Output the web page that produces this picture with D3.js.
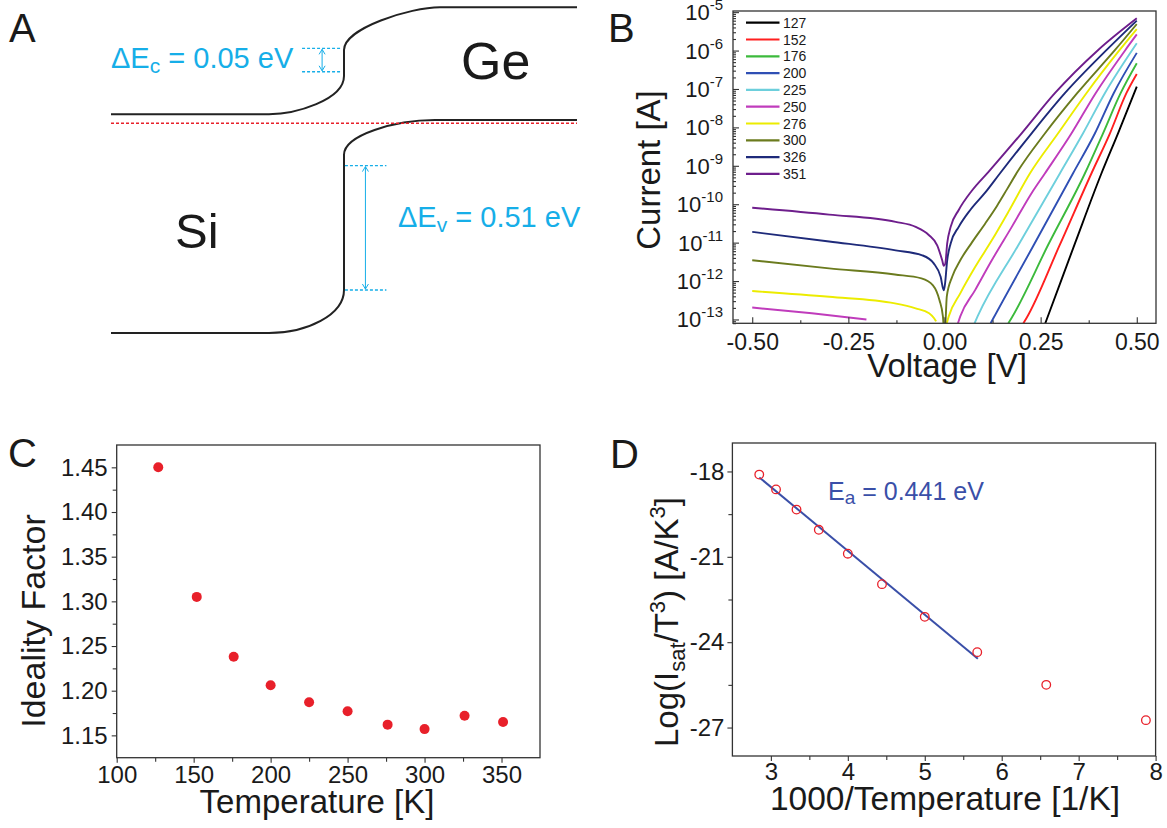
<!DOCTYPE html>
<html><head><meta charset="utf-8">
<script src="https://cdn.jsdelivr.net/npm/d3@7"></script>
<style>
body{margin:0;background:#fff;}
svg{display:block;font-family:"Liberation Sans",Arial,Helvetica,sans-serif;}
</style></head><body>
<svg id="fig" width="1167" height="828"></svg>
<script>
// ================= DATA =================
// Panel B : I-V curves, [voltage (V), log10(current / A)]
const temps = [127,152,176,200,225,250,276,300,326,351];
const ivColors = ["#000000","#ff1f1f","#3cba3c","#2f4fb4","#6dcfdc","#c03cbc","#ecec00","#6b7b1e","#1e2a7a","#6e1e8c"];
const iv127 = [[0.262,-13.1],[0.265,-13.02],[0.34,-11.0],[0.408,-9.2],[0.451,-8.16],[0.5,-6.94]];
const iv152 = [[0.205,-13.1],[0.213,-12.97],[0.298,-11.1],[0.382,-9.2],[0.43,-8.16],[0.473,-7.11],[0.5,-6.61]];
const iv176 = [[0.166,-13.1],[0.174,-12.97],[0.27,-11.05],[0.365,-9.2],[0.412,-8.16],[0.458,-7.11],[0.5,-6.33]];
const iv200 = [[0.12,-13.1],[0.127,-12.97],[0.23,-11.1],[0.334,-9.2],[0.391,-8.16],[0.44,-7.11],[0.5,-6.06]];
const iv225 = [[0.078,-13.1],[0.086,-12.92],[0.19,-11.1],[0.3,-9.2],[0.36,-8.16],[0.417,-7.11],[0.5,-5.81]];
const iv250rev = [[-0.5,-12.69],[-0.345,-12.84],[-0.203,-13.0]];
const iv250 = [[0.035,-13.1],[0.041,-12.92],[0.08,-12.23],[0.123,-11.46],[0.175,-10.59],[0.226,-9.72],[0.261,-9.2],[0.33,-8.16],[0.393,-7.11],[0.47,-5.99],[0.5,-5.58]];
const iv276rev = [[-0.5,-12.26],[-0.3,-12.41],[-0.129,-12.58],[-0.075,-12.71],[-0.04,-12.84],[-0.027,-12.97],[-0.022,-13.05]];
const iv276 = [[0.006,-13.1],[0.011,-12.92],[0.041,-12.32],[0.08,-11.63],[0.123,-10.94],[0.166,-10.2],[0.222,-9.2],[0.295,-8.16],[0.369,-7.11],[0.455,-5.99],[0.5,-5.44]];
const iv300 = [[-0.5,-11.46],[-0.3,-11.67],[-0.129,-11.83],[-0.06,-11.93],[-0.03,-12.11],[-0.013,-12.5],[-0.004,-12.93],[-0.001,-13.3],[0.001,-13.3],[0.006,-12.4],[0.02,-11.89],[0.041,-11.46],[0.071,-11.0],[0.106,-10.5],[0.136,-10.05],[0.162,-9.62],[0.19,-9.15],[0.261,-8.16],[0.345,-7.11],[0.443,-5.99],[0.5,-5.31]];
const iv326 = [[-0.5,-10.72],[-0.3,-10.97],[-0.127,-11.2],[-0.058,-11.33],[-0.028,-11.54],[-0.01,-11.89],[-0.002,-12.24],[0.001,-12.1],[0.007,-11.46],[0.016,-11.02],[0.037,-10.59],[0.067,-10.15],[0.104,-9.72],[0.144,-9.2],[0.226,-8.16],[0.313,-7.11],[0.421,-5.99],[0.5,-5.22]];
const iv351 = [[-0.5,-10.09],[-0.3,-10.27],[-0.127,-10.46],[-0.075,-10.59],[-0.041,-10.8],[-0.019,-11.07],[-0.006,-11.46],[-0.002,-11.6],[0.002,-11.55],[0.007,-11.02],[0.016,-10.59],[0.037,-10.15],[0.071,-9.65],[0.115,-9.15],[0.2,-8.16],[0.287,-7.11],[0.399,-5.99],[0.5,-5.16]];
const ivSeries = [[iv127],[iv152],[iv176],[iv200],[iv225],[iv250rev,iv250],[iv276rev,iv276],[iv300],[iv326],[iv351]];
const bXTicks = [-0.5,-0.25,0,0.25,0.5];
const bXMinor = [-0.375,-0.125,0.125,0.375];
const bYDecades = [-13,-12,-11,-10,-9,-8,-7,-6,-5];

// Panel C : ideality factor vs temperature
const tempC = [127,152,176,200,225,250,276,300,326,351];
const ideality = [1.45,1.305,1.238,1.206,1.187,1.177,1.162,1.157,1.172,1.165];
const cXTicks = [100,150,200,250,300,350];
const cXMinor = [125,175,225,275,325];
const cYTicks = [1.15,1.2,1.25,1.3,1.35,1.4,1.45];
const cYMinor = [1.175,1.225,1.275,1.325,1.375,1.425];

// Panel D : Arrhenius plot
const invT = [2.849,3.067,3.333,3.623,4.0,4.444,5.0,5.682,6.579,7.874];
const logIsat = [-18.11,-18.63,-19.34,-20.05,-20.89,-21.96,-23.11,-24.35,-25.5,-26.74];
const fitX = [2.85,5.69];
const fitY = [-18.21,-24.58];
const dXTicks = [3,4,5,6,7,8];
const dXMinor = [3.5,4.5,5.5,6.5,7.5];
const dYTicks = [-27,-24,-21,-18];
const dYMinor = [-25.5,-22.5,-19.5];

// Panel A : schematic band diagram (schematic units 0..100)
const cbShape = {left:32.8, bendL:33.9, junc:50, lowTop:21.1, highBot:13.1, bendR:70.6, right:0};
const vbShape = {left:100, bendL:33.9, junc:50, lowTop:86.8, highBot:45.3, bendR:69.5, right:34.6};
const fermiLevel = 35.6;
const dEcLines = [12.6,19.8];
const dEvLines = [48.6,86.8];

// ================= DRAW =================
const svg = d3.select("#fig");
const TXT = "#1a1a1a";
const CYAN = "#16aee8";
const RED = "#e8202a";

function panelLetter(t,x,y){
  svg.append("text").attr("x",x).attr("y",y).attr("font-size",40).attr("fill",TXT).text(t);
}
function frame(x0,y0,x1,y1){
  svg.append("rect").attr("x",x0).attr("y",y0).attr("width",x1-x0).attr("height",y1-y0)
    .attr("fill","none").attr("stroke","#333").attr("stroke-width",1.3);
}
function styleAxis(g,fs){
  g.select(".domain").remove();
  g.selectAll("line").attr("stroke","#333").attr("stroke-width",1.1);
  g.selectAll("text").attr("font-size",fs).attr("fill",TXT).attr("font-family",null);
}

// ---------- Panel A ----------
const aX = d3.scaleLinear().domain([0,100]).range([111,577]);
const aY = d3.scaleLinear().domain([0,100]).range([7.3,333]);
panelLetter("A",9,42);
{
  const c = cbShape;
  const p = d3.path();
  p.moveTo(aX(0),aY(c.left));
  p.lineTo(aX(c.bendL),aY(c.left));
  p.bezierCurveTo(aX(39.5),aY(c.left),aX(c.junc),aY(28.5),aX(c.junc),aY(c.lowTop));
  p.lineTo(aX(c.junc),aY(c.highBot));
  p.bezierCurveTo(aX(c.junc),aY(6.4),aX(64.2),aY(c.right),aX(c.bendR),aY(c.right));
  p.lineTo(aX(100),aY(c.right));
  svg.append("path").attr("d",p.toString()).attr("fill","none").attr("stroke","#222").attr("stroke-width",2);
  const v = vbShape;
  const q = d3.path();
  q.moveTo(aX(100),aY(v.right));
  q.lineTo(aX(v.bendR),aY(v.right));
  q.bezierCurveTo(aX(61),aY(v.right),aX(v.junc),aY(39.2),aX(v.junc),aY(v.highBot));
  q.lineTo(aX(v.junc),aY(v.lowTop));
  q.bezierCurveTo(aX(v.junc),aY(94.5),aX(42),aY(v.left),aX(v.bendL),aY(v.left));
  q.lineTo(aX(0),aY(v.left));
  svg.append("path").attr("d",q.toString()).attr("fill","none").attr("stroke","#222").attr("stroke-width",2);
  svg.append("line").attr("x1",aX(0)).attr("x2",aX(100)).attr("y1",aY(fermiLevel)).attr("y2",aY(fermiLevel))
    .attr("stroke",RED).attr("stroke-width",1.4).attr("stroke-dasharray","3,2");
  function dbl(xa,xb,xArrow,levels){
    levels.forEach(l=>svg.append("line").attr("x1",aX(xa)).attr("x2",aX(xb)).attr("y1",aY(l)).attr("y2",aY(l))
      .attr("stroke",CYAN).attr("stroke-width",1.4).attr("stroke-dasharray","3,2"));
    const xa2=aX(xArrow), y1=aY(levels[0]), y2=aY(levels[1]);
    svg.append("line").attr("x1",xa2).attr("x2",xa2).attr("y1",y1+1).attr("y2",y2-1).attr("stroke",CYAN).attr("stroke-width",1);
    svg.append("polyline").attr("points",`${xa2-3},${y1+6} ${xa2},${y1+1} ${xa2+3},${y1+6}`).attr("fill","none").attr("stroke",CYAN).attr("stroke-width",1);
    svg.append("polyline").attr("points",`${xa2-3},${y2-6} ${xa2},${y2-1} ${xa2+3},${y2-6}`).attr("fill","none").attr("stroke",CYAN).attr("stroke-width",1);
  }
  dbl(41,49.5,45.3,dEcLines);
  dbl(50.2,59.1,54.6,dEvLines);
  const t1 = svg.append("text").attr("x",111).attr("y",68).attr("font-size",29).attr("fill",CYAN);
  t1.append("tspan").text("ΔE");
  t1.append("tspan").attr("font-size",21).attr("dy",5).text("c");
  t1.append("tspan").attr("dy",-5).text(" = 0.05 eV");
  const t2 = svg.append("text").attr("x",398).attr("y",227).attr("font-size",29).attr("fill",CYAN);
  t2.append("tspan").text("ΔE");
  t2.append("tspan").attr("font-size",21).attr("dy",5).text("v");
  t2.append("tspan").attr("dy",-5).text(" = 0.51 eV");
  svg.append("text").attr("x",461).attr("y",79).attr("font-size",52).attr("fill",TXT).text("Ge");
  svg.append("text").attr("x",175).attr("y",248).attr("font-size",49).attr("fill",TXT).text("Si");
}

// ---------- Panel B ----------
const bL=733,bR=1156,bT=11,bB=323.3;
const xB = d3.scaleLinear().domain([-0.55,0.55]).range([bL,bR]);
const yB = d3.scaleLog().domain([Math.pow(10,-13.1),Math.pow(10,-4.97)]).range([bB,bT]);
panelLetter("B",608,42);
svg.append("clipPath").attr("id","clipB").append("rect").attr("x",bL).attr("y",bT).attr("width",bR-bL).attr("height",bB-bT);
const lineB = d3.line().x(d=>xB(d[0])).y(d=>yB(Math.pow(10,d[1]))).curve(d3.curveMonotoneX);
const gCurves = svg.append("g").attr("clip-path","url(#clipB)");
ivSeries.forEach((segs,i)=>{
  segs.forEach(seg=>{
    gCurves.append("path").attr("d",lineB(seg)).attr("fill","none").attr("stroke",ivColors[i]).attr("stroke-width",1.9);
  });
});
// axes B (inward ticks)
{
  const gx = svg.append("g").attr("transform",`translate(0,${bB})`)
    .call(d3.axisBottom(xB).tickValues(bXTicks).tickSize(-6).tickPadding(10).tickFormat(d=>d.toFixed(2)));
  styleAxis(gx,23);
  const gxm = svg.append("g").attr("transform",`translate(0,${bB})`)
    .call(d3.axisBottom(xB).tickValues(bXMinor).tickSize(-3).tickFormat(""));
  styleAxis(gxm,0);
  const majorVals = bYDecades.map(e=>Math.pow(10,e));
  const minorVals = [];
  for(let e=-14;e<=-5;e++){ for(let k=2;k<=9;k++){ const v=k*Math.pow(10,e); const lv=Math.log10(v); if(lv>-13.1 && lv<-4.97) minorVals.push(v);} }
  const gy = svg.append("g").attr("transform",`translate(${bL},0)`)
    .call(d3.axisLeft(yB).tickValues(majorVals).tickSize(-6).tickFormat(""));
  styleAxis(gy,0);
  const gym = svg.append("g").attr("transform",`translate(${bL},0)`)
    .call(d3.axisLeft(yB).tickValues(minorVals).tickSize(-3).tickFormat(""));
  styleAxis(gym,0);
  bYDecades.forEach(e=>{
    const y = yB(Math.pow(10,e));
    const t = svg.append("text").attr("x",723).attr("y",y+8).attr("text-anchor","end").attr("fill",TXT).attr("font-size",22);
    t.append("tspan").text("10");
    t.append("tspan").attr("font-size",15).attr("dy",-10).text(String(e));
  });
}
frame(bL,bT,bR,bB);
svg.append("text").attr("x",947).attr("y",377).attr("text-anchor","middle").attr("font-size",33).attr("fill",TXT).text("Voltage [V]");
svg.append("text").attr("transform","translate(660,170) rotate(-90)").attr("text-anchor","middle").attr("font-size",33).attr("fill",TXT).text("Current [A]");
// legend
temps.forEach((t,i)=>{
  const y = 22.7 + i*16.8;
  svg.append("line").attr("x1",746).attr("x2",779.5).attr("y1",y).attr("y2",y).attr("stroke",ivColors[i]).attr("stroke-width",2.2);
  svg.append("text").attr("x",783).attr("y",y+5).attr("font-size",14).attr("fill",TXT).text(t);
});

// ---------- Panel C ----------
const cL=116.7,cR=540,cT=445,cB=757.7;
const xC = d3.scaleLinear().domain([100,375]).range([cL,cR]);
const yC = d3.scaleLinear().domain([1.125,1.475]).range([cB,cT]);
panelLetter("C",8,467);
{
  const gx = svg.append("g").attr("transform",`translate(0,${cB})`)
    .call(d3.axisBottom(xC).tickValues(cXTicks).tickSize(5).tickPadding(3).tickFormat(d=>String(d)));
  styleAxis(gx,24);
  const gxm = svg.append("g").attr("transform",`translate(0,${cB})`)
    .call(d3.axisBottom(xC).tickValues(cXMinor).tickSize(4).tickFormat(""));
  styleAxis(gxm,0);
  const gy = svg.append("g").attr("transform",`translate(${cL},0)`)
    .call(d3.axisLeft(yC).tickValues(cYTicks).tickSize(5).tickPadding(4).tickFormat(d=>d.toFixed(2)));
  styleAxis(gy,24);
  const gym = svg.append("g").attr("transform",`translate(${cL},0)`)
    .call(d3.axisLeft(yC).tickValues(cYMinor).tickSize(4).tickFormat(""));
  styleAxis(gym,0);
}
frame(cL,cT,cR,cB);
svg.append("g").selectAll("circle").data(tempC).join("circle")
  .attr("cx",d=>xC(d)).attr("cy",(d,i)=>yC(ideality[i])).attr("r",5).attr("fill",RED);
svg.append("text").attr("x",317).attr("y",813).attr("text-anchor","middle").attr("font-size",33).attr("fill",TXT).text("Temperature [K]");
svg.append("text").attr("transform","translate(45,621) rotate(-90)").attr("text-anchor","middle").attr("font-size",34).attr("fill",TXT).text("Ideality Factor");

// ---------- Panel D ----------
const dL=732.4,dR=1155.6,dT=443,dB=756;
const xD = d3.scaleLinear().domain([2.5,8]).range([dL,dR]);
const yD = d3.scaleLinear().domain([-28,-17]).range([dB,dT]);
panelLetter("D",610,468);
{
  const gx = svg.append("g").attr("transform",`translate(0,${dB})`)
    .call(d3.axisBottom(xD).tickValues(dXTicks).tickSize(5).tickPadding(2).tickFormat(d=>String(d)));
  styleAxis(gx,24);
  const gxm = svg.append("g").attr("transform",`translate(0,${dB})`)
    .call(d3.axisBottom(xD).tickValues(dXMinor).tickSize(4).tickFormat(""));
  styleAxis(gxm,0);
  const gy = svg.append("g").attr("transform",`translate(${dL},0)`)
    .call(d3.axisLeft(yD).tickValues(dYTicks).tickSize(5).tickPadding(3).tickFormat(d=>String(d)));
  styleAxis(gy,24);
  const gym = svg.append("g").attr("transform",`translate(${dL},0)`)
    .call(d3.axisLeft(yD).tickValues(dYMinor).tickSize(4).tickFormat(""));
  styleAxis(gym,0);
}
frame(dL,dT,dR,dB);
svg.append("line").attr("x1",xD(fitX[0])).attr("y1",yD(fitY[0])).attr("x2",xD(fitX[1])).attr("y2",yD(fitY[1]))
  .attr("stroke","#3a4fa8").attr("stroke-width",2);
svg.append("g").selectAll("circle").data(invT).join("circle")
  .attr("cx",d=>xD(d)).attr("cy",(d,i)=>yD(logIsat[i])).attr("r",4.3)
  .attr("fill","none").attr("stroke",RED).attr("stroke-width",1.3);
{
  const t = svg.append("text").attr("x",828).attr("y",500).attr("font-size",25).attr("fill","#3a4fa8");
  t.append("tspan").text("E");
  t.append("tspan").attr("font-size",19).attr("dy",4).text("a");
  t.append("tspan").attr("dy",-4).text(" = 0.441 eV");
}
svg.append("text").attr("x",945).attr("y",810).attr("text-anchor","middle").attr("font-size",33.5).attr("fill",TXT).text("1000/Temperature [1/K]");
{
  const t = svg.append("text").attr("transform","translate(678,622) rotate(-90)").attr("text-anchor","middle").attr("font-size",33).attr("fill",TXT);
  t.append("tspan").text("Log(I");
  t.append("tspan").attr("font-size",22).attr("dy",7).text("sat");
  t.append("tspan").attr("dy",-7).text("/T");
  t.append("tspan").attr("font-size",22).attr("dy",-13).text("3");
  t.append("tspan").attr("dy",13).text(") [A/K");
  t.append("tspan").attr("font-size",22).attr("dy",-13).text("3");
  t.append("tspan").attr("dy",13).text("]");
}
</script>
</body></html>
